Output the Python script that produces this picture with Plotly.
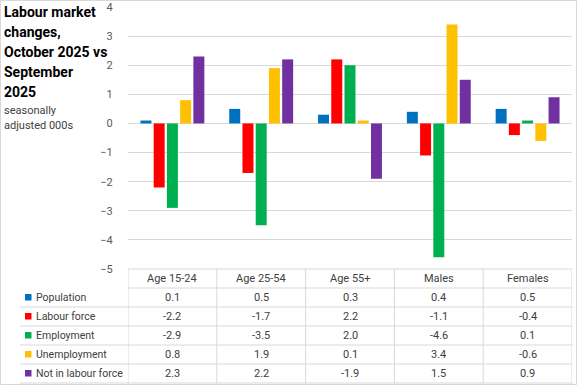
import plotly.graph_objects as go

categories = ["Age 15-24", "Age 25-54", "Age 55+", "Males", "Females"]
series_names = ["Population", "Labour force", "Employment", "Unemployment", "Not in labour force"]
population = [0.1, 0.5, 0.3, 0.4, 0.5]
labour_force = [-2.2, -1.7, 2.2, -1.1, -0.4]
employment = [-2.9, -3.5, 2.0, -4.6, 0.1]
unemployment = [0.8, 1.9, 0.1, 3.4, -0.6]
not_in_lf = [2.3, 2.2, -1.9, 1.5, 0.9]
y_ticks = [-5, -4, -3, -2, -1, 0, 1, 2, 3, 4]
title_lines = ["Labour market", "changes,", "October 2025 vs", "September", "2025"]
subtitle_lines = ["seasonally", "adjusted 000s"]

series_values = [population, labour_force, employment, unemployment, not_in_lf]
colors = ["#0070C0", "#FF0000", "#00B050", "#FFC000", "#7030A0"]

W, H = 577, 385
L, R, T, B = 128, 5, 7, 116
pw = W - L - R
ph = H - T - B
FONT = "Roboto, sans-serif"
GRID = "#D9D9D9"
TXT = "#404040"

def px_x(p):
    return (p - L) / pw

def px_y(p):
    return (H - B - p) / ph

fig = go.Figure()
for name, vals, col in zip(series_names, series_values, colors):
    fig.add_trace(go.Bar(x=categories, y=vals, name=name, marker_color=col,
                         marker_line_width=0))

shapes = []
annotations = []

for i in range(len(categories) + 1):
    shapes.append(dict(type="line", xref="x", yref="paper", x0=i - 0.5, x1=i - 0.5,
                       y0=px_y(269), y1=px_y(383.5), line=dict(color=GRID, width=1)))
for py in [269, 288]:
    shapes.append(dict(type="line", xref="x", yref="paper", x0=-0.5, x1=len(categories) - 0.5,
                       y0=px_y(py), y1=px_y(py), line=dict(color=GRID, width=1)))
row_h = 19
for r in range(len(series_names)):
    py = 288 + row_h * (r + 1)
    shapes.append(dict(type="line", xref="paper", yref="paper", x0=px_x(20), x1=px_x(572.5),
                       y0=px_y(py), y1=px_y(py), line=dict(color=GRID, width=1)))
shapes.append(dict(type="rect", xref="paper", yref="paper", x0=px_x(0.5), x1=px_x(W - 0.5),
                   y0=px_y(0.5), y1=px_y(H - 0.5), line=dict(color=GRID, width=1)))

for i, c in enumerate(categories):
    annotations.append(dict(x=i, xref="x", y=px_y(278.5), yref="paper", text=c, showarrow=False,
                            xanchor="center", yanchor="middle",
                            font=dict(family=FONT, size=11, color=TXT)))
for r, (name, vals, col) in enumerate(zip(series_names, series_values, colors)):
    cy = 288 + row_h * r + row_h / 2
    shapes.append(dict(type="rect", xref="paper", yref="paper", x0=px_x(25), x1=px_x(31.5),
                       y0=px_y(cy - 3.5), y1=px_y(cy + 3), fillcolor=col, line=dict(width=0)))
    annotations.append(dict(x=px_x(34), xref="paper", y=px_y(cy), yref="paper", text=name,
                            showarrow=False, xanchor="left", yanchor="middle",
                            font=dict(family=FONT, size=10.5, color=TXT)))
    for i, v in enumerate(vals):
        annotations.append(dict(x=i, xref="x", y=px_y(cy), yref="paper", text=f"{v:.1f}",
                                showarrow=False, xanchor="center", yanchor="middle",
                                font=dict(family=FONT, size=11, color=TXT)))

for k, line in enumerate(title_lines):
    annotations.append(dict(x=px_x(2), xref="paper", y=px_y(12 + 20 * k), yref="paper",
                            text=f"<b>{line}</b>", showarrow=False, xanchor="left",
                            yanchor="middle", font=dict(family=FONT, size=14, color="#000000")))
for k, line in enumerate(subtitle_lines):
    annotations.append(dict(x=px_x(2), xref="paper", y=px_y(110 + 15 * k), yref="paper",
                            text=line, showarrow=False, xanchor="left",
                            yanchor="middle", font=dict(family=FONT, size=11, color=TXT)))

fig.update_layout(
    width=W, height=H,
    margin=dict(l=L, r=R, t=T, b=B, autoexpand=False),
    paper_bgcolor="white", plot_bgcolor="white",
    barmode="group", bargap=0.255, bargroupgap=0.17,
    showlegend=False,
    shapes=shapes, annotations=annotations,
    xaxis=dict(showticklabels=False, showgrid=False, zeroline=False, showline=False,
               ticks="", range=[-0.5, len(categories) - 0.5]),
    yaxis=dict(range=[-5, 4], tickvals=y_ticks, showgrid=True, gridcolor=GRID, gridwidth=1,
               zeroline=True, zerolinecolor=GRID, zerolinewidth=1, showline=False,
               ticks="outside", ticklen=12, tickcolor="rgba(0,0,0,0)",
               tickfont=dict(family=FONT, size=11, color="#595959")),
)

fig.write_html("out.html", config={"displayModeBar": False},
               post_script="document.body.style.margin='0px';")
